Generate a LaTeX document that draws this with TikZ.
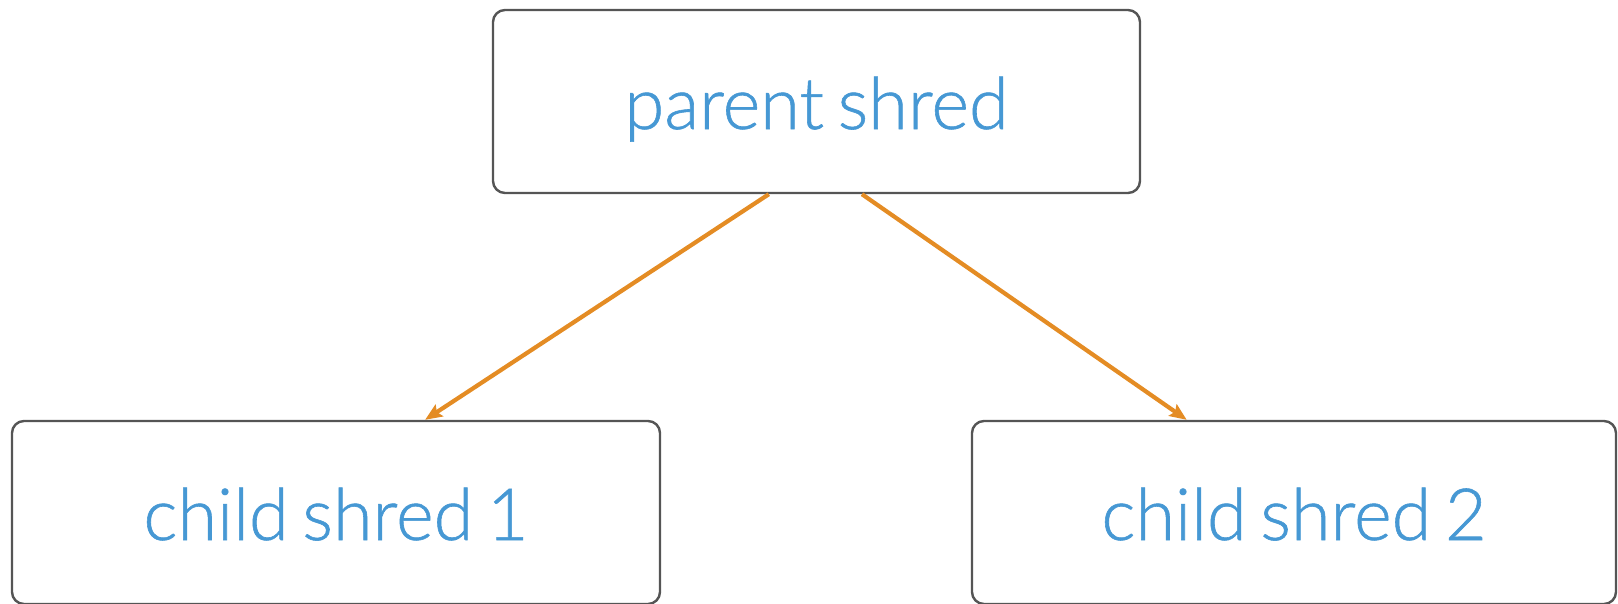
\documentclass[tikz,border=0pt]{standalone}
\usepackage{fontspec}
\setmainfont{Lato}[UprightFont={* Light}, FakeBold=0.8, WordSpace=0.7]
\usetikzlibrary{arrows.meta,calc}
\definecolor{txtblue}{RGB}{70,152,212}
\definecolor{boxgray}{RGB}{85,85,85}
\definecolor{arrorange}{RGB}{228,140,36}
\tikzset{
  shredbox/.style={draw=boxgray, line width=2.4pt, rounded corners=12pt, fill=white,
    minimum width=#1, minimum height=183pt, inner sep=0pt,
    text height=55pt, text depth=0pt, text=txtblue,
    font=\fontsize{72pt}{76pt}\selectfont},
  shredarrow/.style={draw=arrorange, line width=4.2pt, -{Stealth[length=17pt,width=14pt,inset=3pt]}}
}
\begin{document}
\begin{tikzpicture}[x=1pt,y=-1pt]
\useasboundingbox (0,0) rectangle (1618,603);
\node[shredbox=647pt] (parent) at (816.5,101.5) {parent shred};
\node[shredbox=648pt] (child1) at (336,512.5) {child shred 1};
\node[shredbox=644pt] (child2) at (1294,512.5) {child shred 2};
\coordinate (p1) at ($(parent.south west)!0.4266!(parent.south east)$);
\coordinate (p2) at ($(parent.south west)!0.570!(parent.south east)$);
\coordinate (c1) at ($(child1.north west)!0.637!(child1.north east)$);
\coordinate (c2) at ($(child2.north west)!0.334!(child2.north east)$);
\draw[shredarrow] (p1) -- (c1);
\draw[shredarrow] (p2) -- (c2);
\end{tikzpicture}
\end{document}
